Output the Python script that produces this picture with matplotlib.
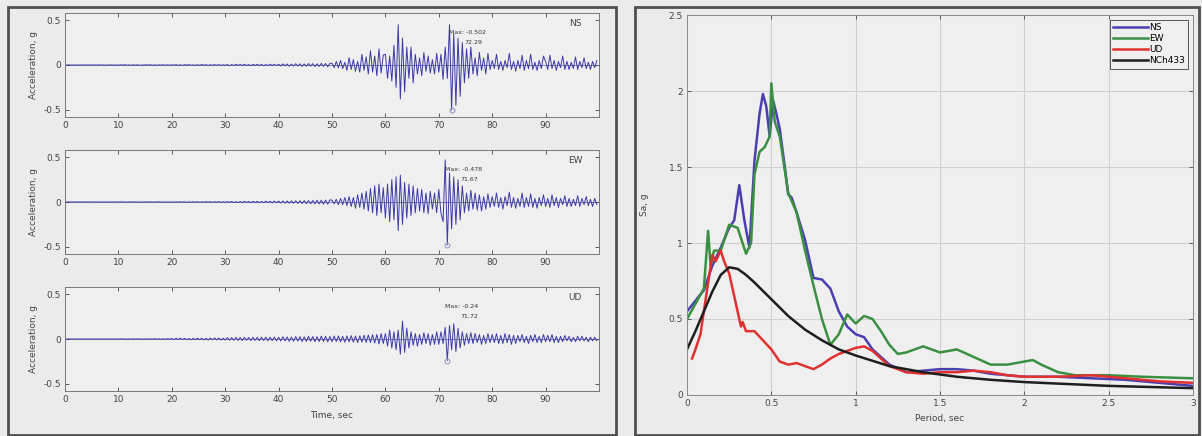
import numpy as np
import matplotlib
matplotlib.use("Agg")
import matplotlib.pyplot as plt
from matplotlib.patches import Rectangle

plt.rcParams['font.family'] = ['DejaVu Sans']
plt.rcParams['axes.unicode_minus'] = False

# ---------------- data ----------------
dt = 0.4

ns_acc = [
    # 0-10 s
    0.001,-0.001,0.002,-0.001,0.001,-0.002,0.001,-0.001,0.002,-0.002,0.001,-0.001,0.002,-0.001,0.001,-0.002,0.002,-0.001,0.001,-0.002,0.001,-0.001,0.002,-0.002,0.001,
    # 10-20 s
    -0.002,0.002,-0.001,0.003,-0.002,0.001,-0.003,0.002,-0.001,0.002,-0.003,0.001,-0.002,0.003,-0.001,0.002,-0.002,0.001,-0.003,0.002,-0.001,0.003,-0.002,0.001,-0.002,
    # 20-30 s
    0.003,-0.002,0.004,-0.003,0.002,-0.004,0.003,-0.002,0.004,-0.003,0.002,-0.004,0.003,-0.003,0.004,-0.002,0.003,-0.004,0.002,-0.003,0.004,-0.002,0.003,-0.004,0.003,
    # 30-40 s
    -0.004,0.005,-0.006,0.004,-0.005,0.007,-0.004,0.006,-0.005,0.008,-0.006,0.005,-0.007,0.006,-0.005,0.008,-0.006,0.007,-0.008,0.005,-0.007,0.009,-0.006,0.008,-0.007,
    # 40-50 s
    0.008,-0.01,0.012,-0.009,0.011,-0.013,0.01,-0.012,0.014,-0.011,0.013,-0.015,0.012,-0.014,0.016,-0.013,0.015,-0.017,0.014,-0.016,0.018,-0.015,0.017,-0.02,0.018,
    # 50-60 s
    0.02,-0.03,0.04,-0.03,0.05,-0.04,0.03,-0.06,0.08,-0.05,0.06,-0.07,0.04,-0.08,0.12,-0.06,0.09,-0.1,0.16,-0.08,0.1,-0.12,0.18,-0.09,0.11,
    # 60-70 s
    0.12,-0.15,0.1,-0.18,0.22,-0.25,0.45,-0.38,0.3,-0.3,0.2,-0.15,0.2,-0.2,0.12,-0.1,0.08,-0.12,0.14,-0.07,0.1,-0.09,0.06,-0.1,0.13,
    # 70-80 s
    -0.08,0.12,-0.16,0.2,-0.15,0.45,-0.502,0.35,-0.45,0.3,-0.35,0.25,-0.2,0.18,-0.15,0.2,-0.1,0.08,-0.12,0.14,-0.06,0.08,-0.1,0.13,-0.05,
    # 80-90 s
    0.05,-0.04,0.12,-0.05,0.04,-0.06,0.05,-0.03,0.13,-0.05,0.04,-0.07,0.05,-0.04,0.11,-0.06,0.05,-0.04,0.12,-0.05,0.03,-0.06,0.05,-0.04,0.1,
    # 90-100 s
    0.04,-0.05,0.11,-0.04,0.05,-0.06,0.04,-0.03,0.1,-0.05,0.04,-0.05,0.03,-0.04,0.09,-0.05,0.04,-0.03,0.08,-0.04,0.03,-0.05,0.04,-0.03,0.05,
]

ew_acc = [
    # 0-10 s
    0.001,-0.001,0.001,-0.001,0.001,-0.001,0.001,-0.001,0.001,-0.001,0.001,-0.001,0.001,-0.001,0.001,-0.001,0.001,-0.001,0.001,-0.001,0.001,-0.001,0.001,-0.001,0.001,
    # 10-20 s
    -0.001,0.002,-0.001,0.001,-0.002,0.001,-0.001,0.002,-0.001,0.001,-0.002,0.001,-0.001,0.002,-0.001,0.001,-0.002,0.001,-0.001,0.002,-0.001,0.001,-0.002,0.001,-0.001,
    # 20-30 s
    0.002,-0.003,0.002,-0.002,0.003,-0.002,0.002,-0.003,0.002,-0.003,0.003,-0.002,0.003,-0.003,0.002,-0.003,0.004,-0.002,0.003,-0.004,0.003,-0.002,0.004,-0.003,0.003,
    # 30-40 s
    -0.004,0.005,-0.004,0.006,-0.005,0.004,-0.006,0.005,-0.006,0.007,-0.005,0.006,-0.007,0.006,-0.005,0.007,-0.008,0.006,-0.007,0.009,-0.007,0.008,-0.009,0.01,-0.008,
    # 40-50 s
    0.01,-0.012,0.011,-0.013,0.012,-0.014,0.013,-0.015,0.014,-0.016,0.015,-0.017,0.016,-0.018,0.017,-0.02,0.018,-0.021,0.02,-0.022,0.021,-0.024,0.022,-0.025,0.024,
    # 50-60 s
    0.02,-0.02,0.03,-0.03,0.04,-0.03,0.05,-0.04,0.06,-0.05,0.05,-0.07,0.08,-0.06,0.1,-0.08,0.12,-0.1,0.15,-0.12,0.18,-0.15,0.2,-0.12,0.16,
    # 60-70 s
    -0.18,0.2,-0.22,0.25,-0.2,0.28,-0.32,0.3,-0.25,0.22,-0.18,0.2,-0.15,0.18,-0.12,0.15,-0.1,0.14,-0.12,0.1,-0.13,0.12,-0.08,0.1,-0.12,
    # 70-80 s
    0.14,-0.12,-0.22,0.47,-0.478,0.32,-0.3,0.28,-0.25,0.25,-0.2,0.18,-0.12,0.1,-0.1,0.13,-0.08,0.1,-0.09,0.08,-0.1,0.06,-0.08,0.09,-0.06,
    # 80-90 s
    0.06,-0.05,0.1,-0.06,0.05,-0.08,0.06,-0.04,0.11,-0.06,0.05,-0.07,0.04,-0.05,0.1,-0.06,0.05,-0.05,0.09,-0.06,0.04,-0.07,0.05,-0.04,0.08,
    # 90-100 s
    -0.05,0.04,-0.06,0.08,-0.04,0.05,-0.06,0.04,-0.03,0.07,-0.05,0.04,-0.05,0.03,-0.04,0.07,-0.05,0.04,-0.03,0.06,-0.04,0.03,-0.05,0.04,-0.03,
]

ud_acc = [
    # 0-10 s
    0.001,-0.001,0.001,-0.001,0.001,-0.001,0.001,-0.001,0.001,-0.001,0.001,-0.001,0.001,-0.001,0.001,-0.001,0.001,-0.001,0.001,-0.001,0.001,-0.001,0.001,-0.001,0.001,
    # 10-20 s
    -0.002,0.002,-0.001,0.002,-0.002,0.001,-0.002,0.002,-0.001,0.002,-0.002,0.001,-0.002,0.002,-0.001,0.002,-0.002,0.003,-0.002,0.003,-0.003,0.002,-0.003,0.003,-0.002,
    # 20-30 s
    0.005,-0.006,0.007,-0.005,0.008,-0.006,0.007,-0.008,0.006,-0.009,0.008,-0.007,0.01,-0.008,0.009,-0.01,0.008,-0.011,0.01,-0.009,0.012,-0.01,0.011,-0.012,0.01,
    # 30-40 s
    -0.012,0.015,-0.013,0.016,-0.014,0.018,-0.015,0.017,-0.016,0.019,-0.015,0.018,-0.017,0.02,-0.016,0.019,-0.018,0.02,-0.017,0.021,-0.019,0.02,-0.018,0.022,-0.02,
    # 40-50 s
    0.02,-0.022,0.025,-0.021,0.024,-0.026,0.022,-0.025,0.027,-0.023,0.026,-0.028,0.024,-0.027,0.03,-0.025,0.028,-0.03,0.026,-0.029,0.032,-0.027,0.03,-0.032,0.028,
    # 50-60 s
    -0.03,0.033,-0.028,0.035,-0.032,0.03,-0.036,0.034,-0.031,0.038,-0.035,0.033,-0.04,0.036,-0.034,0.042,-0.038,0.045,-0.04,0.048,-0.044,0.05,-0.055,0.06,-0.05,
    # 60-70 s
    0.06,-0.08,0.1,-0.1,0.08,-0.12,0.1,-0.17,0.2,-0.15,0.12,-0.1,0.08,-0.07,0.06,-0.08,0.05,-0.06,0.07,-0.05,0.06,-0.07,0.05,-0.06,0.08,
    # 70-80 s
    -0.06,0.08,-0.05,0.13,-0.24,0.15,-0.12,0.17,-0.14,0.12,-0.1,0.08,-0.07,0.06,-0.05,0.07,-0.05,0.06,-0.04,0.05,-0.06,0.04,-0.05,0.06,-0.04,
    # 80-90 s
    0.05,-0.04,0.06,-0.05,0.04,-0.05,0.06,-0.04,0.05,-0.06,0.04,-0.05,0.04,-0.03,0.05,-0.04,0.03,-0.05,0.04,-0.03,0.05,-0.04,0.03,-0.04,0.05,
    # 90-100 s
    -0.03,0.04,-0.03,0.05,-0.04,0.03,-0.04,0.03,-0.03,0.04,-0.02,0.03,-0.03,0.02,-0.03,0.03,-0.02,0.03,-0.02,0.02,-0.03,0.02,-0.02,0.02,-0.02,
]

trace_names = ["NS", "EW", "UD"]
max_labels = ["Max: -0.502", "Max: -0.478", "Max: -0.24"]
max_times = ["72.29", "71.67", "71.72"]

# response spectra (period in s, Sa in g)
T_ns = [0.0,0.05,0.1,0.15,0.2,0.25,0.28,0.31,0.34,0.37,0.4,0.43,0.45,0.47,0.49,0.51,0.53,0.55,0.58,0.6,0.62,0.65,0.7,0.75,0.8,0.85,0.9,0.95,1.0,1.05,1.1,1.2,1.3,1.4,1.5,1.6,1.7,1.8,1.9,2.0,2.2,2.4,2.6,2.8,3.0]
Sa_ns = [0.55,0.62,0.69,0.85,0.97,1.1,1.15,1.38,1.15,0.97,1.54,1.85,1.98,1.9,1.7,1.94,1.85,1.75,1.5,1.32,1.3,1.2,1.02,0.77,0.76,0.7,0.55,0.45,0.4,0.38,0.3,0.2,0.15,0.16,0.17,0.17,0.16,0.14,0.13,0.12,0.12,0.11,0.1,0.08,0.06]

T_ew = [0.0,0.05,0.1,0.125,0.14,0.16,0.2,0.25,0.3,0.35,0.38,0.4,0.43,0.46,0.49,0.5,0.52,0.55,0.6,0.65,0.7,0.75,0.8,0.85,0.9,0.95,1.0,1.05,1.1,1.15,1.2,1.25,1.3,1.4,1.5,1.6,1.7,1.8,1.9,2.0,2.05,2.1,2.2,2.3,2.5,2.7,3.0]
Sa_ew = [0.5,0.6,0.7,1.08,0.85,0.95,0.95,1.12,1.1,0.93,1.0,1.45,1.6,1.63,1.7,2.05,1.8,1.7,1.33,1.2,0.95,0.72,0.5,0.33,0.4,0.53,0.47,0.52,0.5,0.42,0.33,0.27,0.28,0.32,0.28,0.3,0.25,0.2,0.2,0.22,0.23,0.2,0.15,0.13,0.13,0.12,0.11]

T_ud = [0.03,0.05,0.08,0.1,0.12,0.15,0.17,0.2,0.22,0.25,0.28,0.3,0.32,0.33,0.35,0.4,0.45,0.5,0.55,0.6,0.65,0.7,0.75,0.8,0.85,0.9,0.95,1.0,1.05,1.1,1.15,1.2,1.3,1.4,1.5,1.6,1.7,1.8,1.9,2.0,2.2,2.4,2.6,2.8,3.0]
Sa_ud = [0.24,0.3,0.4,0.55,0.7,0.92,0.88,0.95,0.88,0.8,0.65,0.55,0.45,0.48,0.42,0.42,0.36,0.3,0.22,0.2,0.21,0.19,0.17,0.2,0.24,0.27,0.29,0.31,0.32,0.29,0.24,0.19,0.15,0.14,0.15,0.15,0.16,0.15,0.13,0.12,0.12,0.13,0.11,0.09,0.08]

T_nch = [0.0,0.05,0.1,0.15,0.2,0.25,0.3,0.35,0.4,0.5,0.6,0.7,0.8,0.9,1.0,1.2,1.4,1.6,1.8,2.0,2.5,3.0]
Sa_nch = [0.3,0.42,0.55,0.68,0.79,0.84,0.83,0.79,0.74,0.63,0.52,0.43,0.36,0.3,0.26,0.19,0.15,0.12,0.1,0.085,0.06,0.045]

spectra = [("NS", T_ns, Sa_ns, "#4a3fb0"),
           ("EW", T_ew, Sa_ew, "#3a9040"),
           ("UD", T_ud, Sa_ud, "#e0302f"),
           ("NCh433", T_nch, Sa_nch, "#1e1e1e")]

# ---------------- figure ----------------
W, H = 1202, 436
fig = plt.figure(figsize=(W / 100, H / 100), dpi=100, facecolor="#ebebeb")

def px(x0, y0, x1, y1):
    return [x0 / W, 1 - y1 / H, (x1 - x0) / W, (y1 - y0) / H]

# panel frames
for (x0, y0, x1, y1) in [(8, 7, 616, 435), (635, 7, 1199, 435)]:
    fig.patches.append(Rectangle((x0 / W, 1 - y1 / H), (x1 - x0) / W, (y1 - y0) / H,
                                 transform=fig.transFigure, fill=False,
                                 edgecolor="#505050", linewidth=2.0))

fs = 6.5
tick_col = "#444444"
acc_rows = [(13, 117), (150, 254), (287, 391)]
acc_data = [ns_acc, ew_acc, ud_acc]
for i, (y0, y1) in enumerate(acc_rows):
    ax = fig.add_axes(px(65, y0, 599, y1))
    ax.set_facecolor("#efefef")
    vals = np.array(acc_data[i])
    t = np.arange(len(vals)) * dt
    ax.plot(t, vals, color="#3d3aa8", linewidth=0.7)
    ax.axhline(0, color="#5a5a9a", linewidth=0.5, zorder=0)
    imin = int(np.argmin(vals))
    ax.plot(t[imin], vals[imin], 'o', ms=3.5, mfc="none", mec="#9a9ac8", mew=0.8)
    ax.set_xlim(0, 100)
    ax.set_ylim(-0.58, 0.58)
    ax.set_xticks(np.arange(0, 100, 10))
    ax.set_yticks([-0.5, 0, 0.5])
    ax.set_yticklabels(["-0.5", "0", "0.5"])
    ax.tick_params(direction="in", length=3, width=0.6, labelsize=fs,
                   colors=tick_col, top=True, right=True, pad=3)
    for s in ax.spines.values():
        s.set_color("#777777")
        s.set_linewidth(0.7)
    ax.set_ylabel("Acceleration, g", fontsize=fs, color=tick_col, labelpad=4)
    ax.text(0.955, 0.9, trace_names[i], transform=ax.transAxes, fontsize=fs,
            color="#444444", ha="center", va="center")
    ax.text(t[imin] - 0.4, 0.36, max_labels[i], fontsize=4.5, color="#333333",
            ha="left", va="center")
    ax.text(t[imin] + 2.4, 0.25, max_times[i], fontsize=4.5, color="#333333",
            ha="left", va="center")
    if i == 2:
        ax.set_xlabel("Time, sec", fontsize=fs, color=tick_col, labelpad=5)

# response spectrum panel
ax = fig.add_axes(px(687, 15, 1193, 395))
ax.set_facecolor("#efefef")
for name, T, Sa, col in spectra:
    ax.plot(T, Sa, color=col, linewidth=1.8, label=name)
ax.set_xlim(0, 3)
ax.set_ylim(0, 2.5)
ax.set_xticks([0, 0.5, 1, 1.5, 2, 2.5, 3])
ax.set_xticklabels(["0", "0.5", "1", "1.5", "2", "2.5", "3"])
ax.set_yticks([0, 0.5, 1, 1.5, 2, 2.5])
ax.set_yticklabels(["0", "0.5", "1", "1.5", "2", "2.5"])
ax.grid(True, color="#cfcfcf", linewidth=0.8)
ax.set_axisbelow(True)
ax.tick_params(direction="in", length=3, width=0.6, labelsize=fs,
               colors=tick_col, top=True, right=True, pad=3)
for s in ax.spines.values():
    s.set_color("#8a8a8a")
    s.set_linewidth(0.7)
ax.set_xlabel("Period, sec", fontsize=fs, color=tick_col, labelpad=4)
ax.set_ylabel("Sa, g", fontsize=fs, color=tick_col, labelpad=14)
leg = ax.legend(loc="upper right", fontsize=fs, frameon=True, fancybox=False,
                handlelength=3.8, handletextpad=0.2, borderpad=0.35,
                labelspacing=0.25, borderaxespad=0.5)
leg.get_frame().set_edgecolor("#555555")
leg.get_frame().set_linewidth(0.7)
leg.get_frame().set_facecolor("#efefef")
leg.get_frame().set_alpha(1.0)

fig.savefig("out.png", dpi=100, facecolor=fig.get_facecolor())
